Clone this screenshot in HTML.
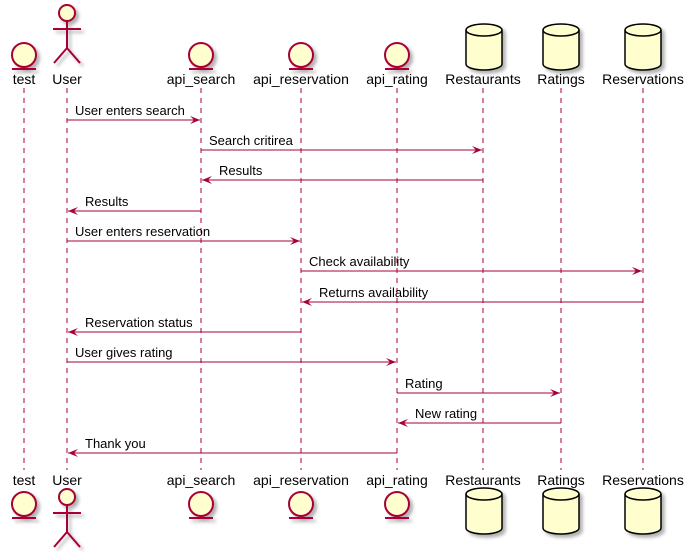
<!DOCTYPE html>
<html><head><meta charset="utf-8"><style>body{margin:0;background:#fff}svg{display:block}text{font-family:"Liberation Sans",sans-serif}</style></head><body>
<svg width="693" height="559" viewBox="0 0 693 559" xmlns="http://www.w3.org/2000/svg">
<defs>
<filter id="sh" x="-50%" y="-50%" width="200%" height="200%"><feGaussianBlur in="SourceAlpha" stdDeviation="1.5" result="b"/><feOffset in="b" dx="3" dy="3" result="o"/><feFlood flood-color="#000" flood-opacity="0.3"/><feComposite in2="o" operator="in" result="s"/><feMerge><feMergeNode in="s"/><feMergeNode in="SourceGraphic"/></feMerge></filter>
<g id="ent"><circle cx="0" cy="0" r="12" fill="#FEFECE" stroke="#A80036" stroke-width="2"/><line x1="-12" y1="14" x2="12" y2="14" stroke="#A80036" stroke-width="2"/></g>
<g id="act" fill="none" stroke="#A80036" stroke-width="2"><circle cx="0" cy="0" r="8" fill="#FEFECE"/><line x1="0" y1="8" x2="0" y2="35"/><line x1="-14" y1="16" x2="14" y2="16"/><line x1="0" y1="35" x2="-13" y2="50"/><line x1="0" y1="35" x2="13" y2="50"/></g>
<g id="db" stroke="#000" stroke-width="1.5" fill="#FEFECE"><path d="M-18,6 A18,6 0 0 1 18,6 L18,40 A18,6 0 0 1 -18,40 Z"/><path d="M-18,6 A18,6 0 0 0 18,6" fill="none"/></g>
<path id="ar" d="M0,0 L-10,-4 L-6,0 L-10,4 Z" fill="#A80036"/>
<path id="al" d="M0,0 L10,-4 L6,0 L10,4 Z" fill="#A80036"/>
</defs>
<g stroke="#A80036" stroke-width="1" stroke-dasharray="5,5">
<line x1="24" y1="88" x2="24" y2="470"/><line x1="67" y1="88" x2="67" y2="470"/><line x1="201" y1="88" x2="201" y2="470"/><line x1="301" y1="88" x2="301" y2="470"/><line x1="397" y1="88" x2="397" y2="470"/><line x1="483" y1="88" x2="483" y2="470"/><line x1="561" y1="88" x2="561" y2="470"/><line x1="643" y1="88" x2="643" y2="470"/>
</g>
<g filter="url(#sh)">
<use href="#ent" x="24" y="55"/><use href="#act" x="67" y="13"/><use href="#ent" x="201" y="55"/><use href="#ent" x="301" y="55"/><use href="#ent" x="397" y="55"/>
<use href="#db" x="484" y="24"/><use href="#db" x="561" y="24"/><use href="#db" x="643" y="24"/>
<use href="#ent" x="24" y="504"/><use href="#act" x="67" y="497"/><use href="#ent" x="201" y="504"/><use href="#ent" x="301" y="504"/><use href="#ent" x="397" y="504"/>
<use href="#db" x="484" y="488"/><use href="#db" x="561" y="488"/><use href="#db" x="643" y="488"/>
</g>
<g font-size="14" text-anchor="middle" fill="#000">
<text x="24" y="84">test</text><text x="67" y="84">User</text><text x="201" y="84">api_search</text><text x="301" y="84">api_reservation</text><text x="397" y="84">api_rating</text><text x="483" y="84">Restaurants</text><text x="561" y="84">Ratings</text><text x="643" y="84">Reservations</text>
<text x="24" y="485">test</text><text x="67" y="485">User</text><text x="201" y="485">api_search</text><text x="301" y="485">api_reservation</text><text x="397" y="485">api_rating</text><text x="483" y="485">Restaurants</text><text x="561" y="485">Ratings</text><text x="643" y="485">Reservations</text>
</g>
<g stroke="#A80036" stroke-width="1">
<line x1="67" y1="120" x2="200" y2="120"/><line x1="201" y1="150" x2="482" y2="150"/><line x1="202" y1="180" x2="483" y2="180"/><line x1="68" y1="211" x2="201" y2="211"/>
<line x1="67" y1="241" x2="300" y2="241"/><line x1="301" y1="271" x2="642" y2="271"/><line x1="302" y1="302" x2="643" y2="302"/><line x1="68" y1="332" x2="301" y2="332"/>
<line x1="67" y1="362" x2="396" y2="362"/><line x1="397" y1="393" x2="560" y2="393"/><line x1="398" y1="423" x2="561" y2="423"/><line x1="68" y1="453" x2="397" y2="453"/>
</g>
<use href="#ar" x="200" y="120"/><use href="#ar" x="482" y="150"/><use href="#al" x="202" y="180"/><use href="#al" x="68" y="211"/>
<use href="#ar" x="300" y="241"/><use href="#ar" x="642" y="271"/><use href="#al" x="302" y="302"/><use href="#al" x="68" y="332"/>
<use href="#ar" x="396" y="362"/><use href="#ar" x="560" y="393"/><use href="#al" x="398" y="423"/><use href="#al" x="68" y="453"/>
<g font-size="13" fill="#000">
<text x="75" y="115">User enters search</text><text x="209" y="145">Search critirea</text><text x="219" y="175">Results</text><text x="85" y="206">Results</text>
<text x="75" y="236">User enters reservation</text><text x="309" y="266">Check availability</text><text x="319" y="297">Returns availability</text><text x="85" y="327">Reservation status</text>
<text x="75" y="357">User gives rating</text><text x="405" y="388">Rating</text><text x="415" y="418">New rating</text><text x="85" y="448">Thank you</text>
</g>
</svg>
</body></html>
